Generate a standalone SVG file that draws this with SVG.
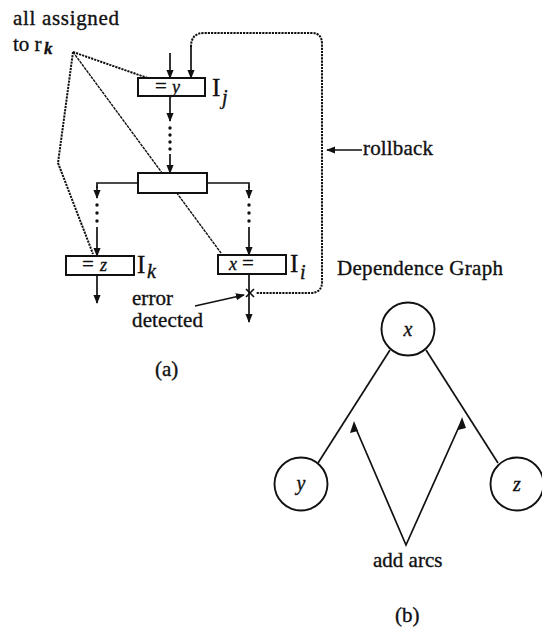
<svg xmlns="http://www.w3.org/2000/svg" width="542" height="631" viewBox="0 0 542 631">
  <style>
    text { stroke: #111; stroke-width: 0.35; }
    .t { font-family: "Liberation Serif", "Times New Roman", serif; font-size: 21px; fill: #111; }
    .it { font-family: "Liberation Serif", "Times New Roman", serif; font-style: italic; fill: #111; }
    .big { font-family: "Liberation Serif", "Times New Roman", serif; font-size: 25px; fill: #111; }
    .box { fill: #fff; stroke: #111; stroke-width: 2; }
    .ln { fill: none; stroke: #111; stroke-width: 1.7; }
    .arr { fill: none; stroke: #111; stroke-width: 1.7; marker-end: url(#ah); }
    .dot { fill: none; stroke: #111; stroke-width: 2; stroke-dasharray: 2.2 1; }
    .fine { fill: none; stroke: #111; stroke-width: 1.4; stroke-dasharray: 3 0.8; }
    .node { fill: #fff; stroke: #111; stroke-width: 1.9; }
    .d { fill: #111; }
  </style>
  <defs>
    <marker id="ah" viewBox="0 0 10 10" refX="9" refY="5" markerWidth="9" markerHeight="9" markerUnits="userSpaceOnUse" orient="auto">
      <path d="M0,1 L10,5 L0,9 Z" fill="#111"/>
    </marker>
  </defs>

  <!-- (a) control flow with instructions -->
  <g id="connectors">
    <!-- incoming arrows to I_j -->
    <line class="arr" x1="170" y1="53" x2="170" y2="78"/>
    <line class="arr" x1="191" y1="47" x2="191" y2="78"/>
    <!-- rollback path -->
    <path class="dot" d="M191,47 Q191,33 204,33 L312,33 Q322,33 322,44 L322,282 Q322,293 310,293 L256,293"/>
    <line class="arr" x1="362" y1="150" x2="327" y2="150"/>
    <!-- I_j to middle block -->
    <line class="arr" x1="170" y1="96" x2="170" y2="121"/>
    <circle class="d" cx="170" cy="128" r="1.7"/>
    <circle class="d" cx="170" cy="135" r="1.7"/>
    <circle class="d" cx="170" cy="142" r="1.7"/>
    <circle class="d" cx="170" cy="149" r="1.7"/>
    <line class="arr" x1="170" y1="154" x2="170" y2="173"/>
    <!-- branches -->
    <polyline class="ln" points="137,183 97,183 97,188"/>
    <line class="arr" x1="97" y1="186" x2="97" y2="198"/>
    <polyline class="ln" points="207,183 249,183 249,188"/>
    <line class="arr" x1="249" y1="186" x2="249" y2="198"/>
    <circle class="d" cx="97" cy="205" r="1.7"/>
    <circle class="d" cx="97" cy="213" r="1.7"/>
    <circle class="d" cx="97" cy="221" r="1.7"/>
    <circle class="d" cx="249" cy="205" r="1.7"/>
    <circle class="d" cx="249" cy="213" r="1.7"/>
    <circle class="d" cx="249" cy="221" r="1.7"/>
    <line class="arr" x1="97" y1="227" x2="97" y2="256"/>
    <line class="arr" x1="249" y1="227" x2="249" y2="255"/>
    <!-- exits -->
    <line class="arr" x1="97" y1="275" x2="97" y2="303"/>
    <line class="arr" x1="249" y1="274" x2="249" y2="322"/>
    <!-- error mark -->
    <path class="ln" d="M246,289 L254,297 M254,289 L246,297" stroke-width="2.2"/>
    <line class="arr" x1="195" y1="306" x2="244" y2="295"/>
    <!-- register assignment links -->
    <line class="dot" x1="73" y1="52" x2="162" y2="83"/>
    <line class="fine" x1="73" y1="52" x2="221" y2="253"/>
    <polyline class="dot" points="73,52 58,163 93,254"/>
  </g>

  <g id="Ij">
    <rect class="box" x="138" y="78" width="67" height="18"/>
    <text class="t" x="155" y="93" font-size="18">=</text>
    <text class="it" x="172" y="93" font-size="18">y</text>
    <text class="big" x="212" y="96">I</text>
    <text class="it" x="222" y="104" font-size="20">j</text>
  </g>
  <g id="middle">
    <rect class="box" x="138" y="173" width="69" height="20"/>
  </g>
  <g id="Ik">
    <rect class="box" x="66" y="256" width="68" height="19"/>
    <text class="t" x="82" y="271" font-size="18">=</text>
    <text class="it" x="100" y="271" font-size="18">z</text>
    <text class="big" x="137" y="273">I</text>
    <text class="it" x="147" y="278" font-size="20">k</text>
  </g>
  <g id="Ii">
    <rect class="box" x="218" y="255" width="68" height="19"/>
    <text class="it" x="229" y="270" font-size="18">x</text>
    <text class="t" x="242" y="270" font-size="18">=</text>
    <text class="big" x="290" y="272">I</text>
    <text class="it" x="300" y="279" font-size="20">i</text>
  </g>

  <g id="labels-a">
    <text class="t" x="13" y="25" textLength="106">all assigned</text>
    <text class="t" x="13" y="51">to r</text>
    <text class="it" x="44" y="54" font-size="17" font-weight="bold">k</text>
    <text class="t" x="363" y="155" textLength="70">rollback</text>
    <text class="t" x="132" y="305" font-size="20" textLength="41">error</text>
    <text class="t" x="132" y="327" font-size="20" textLength="71">detected</text>
    <text class="t" x="155" y="376">(a)</text>
  </g>

  <!-- (b) dependence graph -->
  <g id="graph-edges">
    <line class="ln" x1="390" y1="350" x2="318" y2="463"/>
    <line class="ln" x1="426" y1="350" x2="498" y2="463"/>
    <polyline class="ln" points="354,424 406,545 462,420"/>
    <path d="M354,421 L350,433 L358,431 Z" class="d"/>
    <path d="M462,417 L458,430 L466,428 Z" class="d"/>
  </g>
  <g id="node-x">
    <circle class="node" cx="408" cy="329" r="26.5"/>
    <text class="it" x="408" y="336" font-size="20" text-anchor="middle">x</text>
  </g>
  <g id="node-y">
    <circle class="node" cx="301" cy="484" r="26.5"/>
    <text class="it" x="301" y="490" font-size="20" text-anchor="middle">y</text>
  </g>
  <g id="node-z">
    <circle class="node" cx="517" cy="484" r="26.5"/>
    <text class="it" x="517" y="491" font-size="20" text-anchor="middle">z</text>
  </g>
  <g id="labels-b">
    <text class="t" x="337" y="275" textLength="166">Dependence Graph</text>
    <text class="t" x="373" y="567">add arcs</text>
    <text class="t" x="395" y="622">(b)</text>
  </g>
</svg>
